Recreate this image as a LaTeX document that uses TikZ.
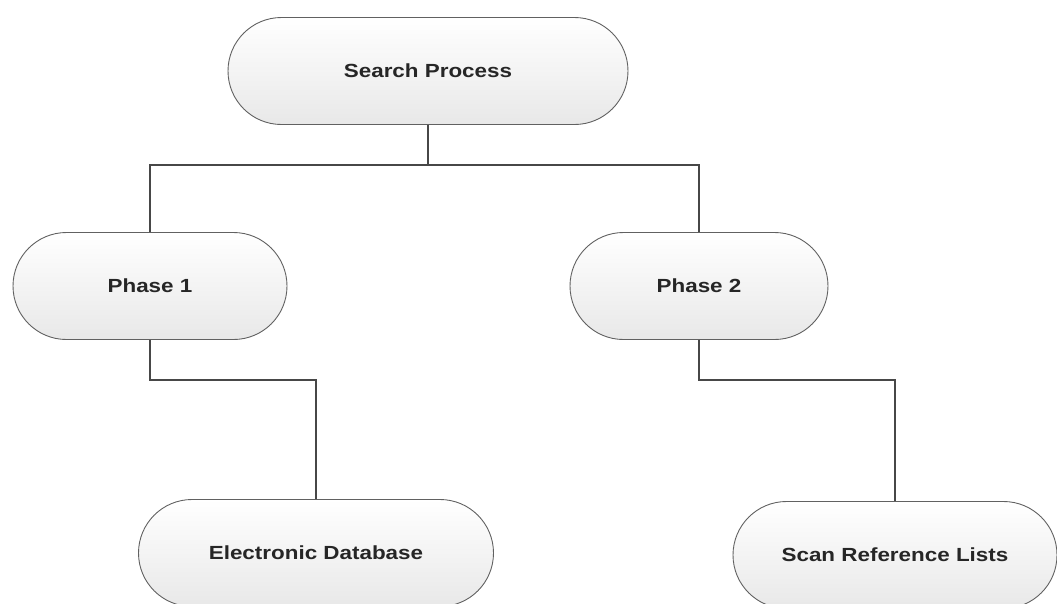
\documentclass[tikz,border=0pt]{standalone}
\usepackage{fontspec}
\usepackage{graphicx}
\setmainfont{Liberation Sans}
\usetikzlibrary{shapes.misc}

% labels in the reference are drawn a bit wide
\newcommand{\widetext}[1]{\scalebox{1.18}[1]{#1}}

\begin{document}
\begin{tikzpicture}[x=1pt, y=-1pt, draw=black!72, line width=1.2pt, every node/.style={text=black!85}]
    \tikzstyle{pill}=[rounded rectangle, draw=black!62, line width=0.9pt, top color=white, bottom color=black!9, font=\fontsize{19}{22}\selectfont\bfseries, minimum height=107pt, inner sep=0pt]
    \tikzstyle{top pill}=[pill, minimum width=400pt]
    \tikzstyle{phase pill}=[pill]
    \tikzstyle{leaf pill}=[pill]

    \useasboundingbox (0,0) rectangle (1057,603);

    % Top
    \node[top pill] (S) at (428,71) {\widetext{Search Process}};

    % Phases
    \node[phase pill, minimum width=274pt] (P-1) at (150,286) {\widetext{Phase 1}};
    \node[phase pill, minimum width=258pt] (P-2) at (699,286) {\widetext{Phase 2}};

    % Leaves
    \node[leaf pill, minimum width=355pt] (L-1) at (316,553) {\widetext{Electronic Database}};
    \node[leaf pill, minimum width=324pt] (L-2) at (895,555) {\widetext{Scan Reference Lists}};

    % Split points
    \coordinate (J-0) at (428,165);
    \coordinate (J-1) at (150,380);
    \coordinate (J-2) at (699,380);

    % Top to phases
    \draw (S) -- (J-0);
    \draw (J-0) -| (P-1);
    \draw (J-0) -| (P-2);

    % Phases to leaves
    \draw (P-1) -- (J-1) -| (L-1);
    \draw (P-2) -- (J-2) -| (L-2);

\end{tikzpicture}
\end{document}
